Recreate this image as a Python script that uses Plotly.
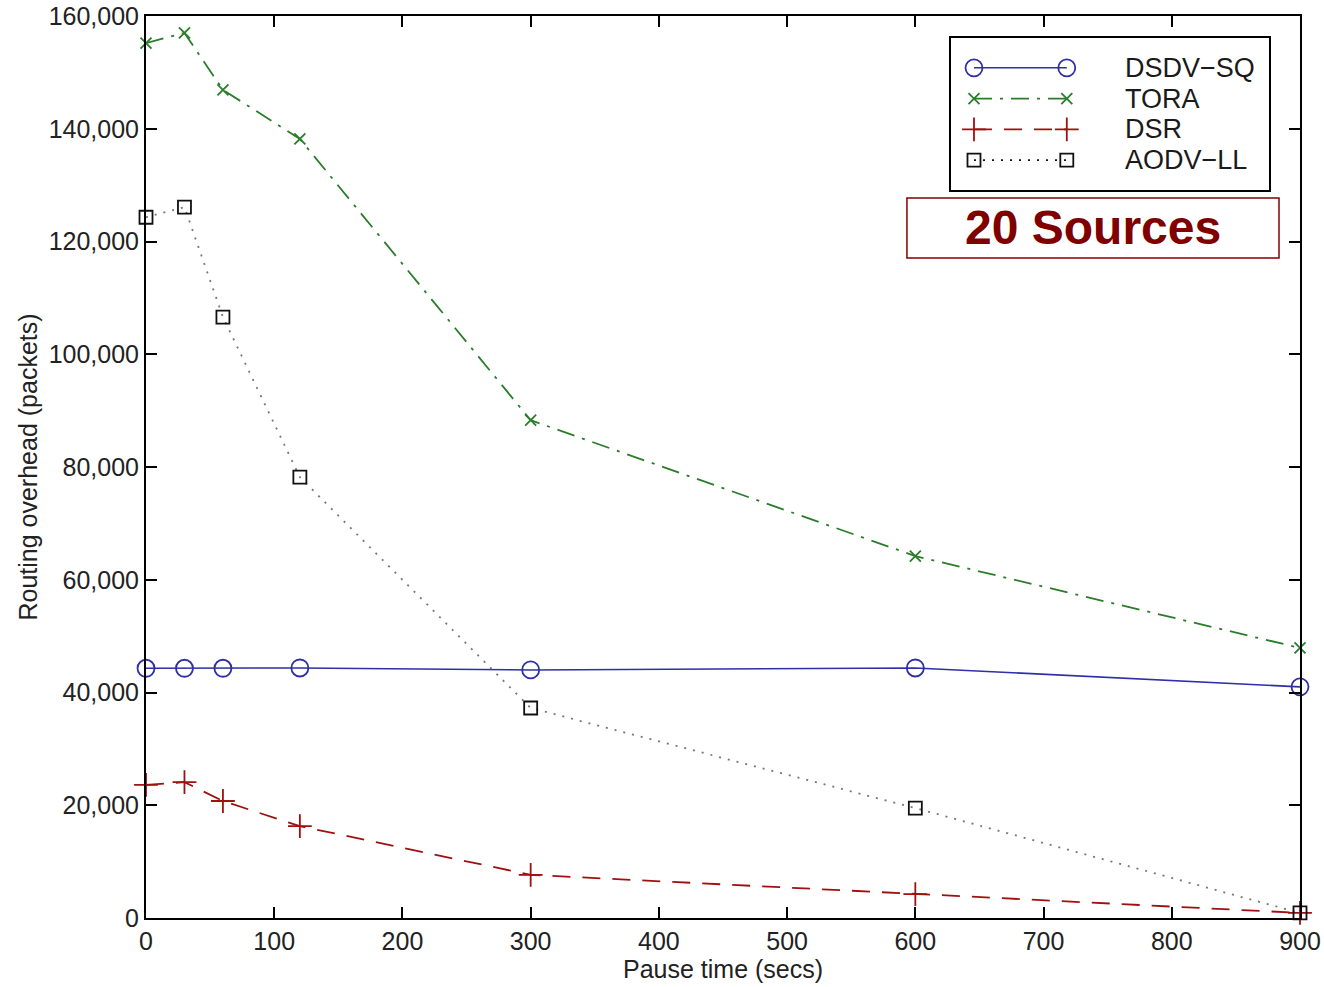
import plotly.graph_objects as go

pause_time = [0, 30, 60, 120, 300, 600, 900]
dsdv_sq = [44300, 44300, 44300, 44350, 44000, 44350, 41000]
tora = [155200, 157000, 146900, 138200, 88300, 64200, 47900]
dsr = [23600, 24100, 20750, 16300, 7650, 4250, 900]
aodv_ll = [124300, 126100, 106600, 78200, 37250, 19500, 900]

series_names = ["DSDV\u2212SQ", "TORA", "DSR", "AODV\u2212LL"]

BLUE = "#2f2fa8"
GREEN = "#2a7d2a"
RED = "#a01010"
BLACK = "#111111"
GRAY = "#777777"
FONT = "Liberation Sans, Arial"

styles = [
    dict(color=BLUE, dash="solid", symbol="circle-open", msize=17, mcolor=BLUE, lw=1.6),
    dict(color=GREEN, dash="18px,8px,3px,8px", symbol="x-thin-open", msize=11, mcolor=GREEN, lw=1.8),
    dict(color=RED, dash="18px,12px", symbol="cross-thin-open", msize=17, mcolor=RED, lw=1.8),
    dict(color=GRAY, dash="2px,7px", symbol="square-open", msize=13, mcolor=BLACK, lw=1.8),
]
data = [dsdv_sq, tora, dsr, aodv_ll]

fig = go.Figure()
for name, ys, st in zip(series_names, data, styles):
    fig.add_trace(go.Scatter(
        x=pause_time, y=ys, name=name, mode="lines+markers",
        line=dict(color=st["color"], dash=st["dash"], width=st["lw"]),
        marker=dict(symbol=st["symbol"], size=st["msize"],
                    line=dict(color=st["mcolor"], width=1.8), color=st["mcolor"]),
        showlegend=False, cliponaxis=False,
    ))

# custom legend drawn on an overlay axis
leg_y = [0.80, 0.60, 0.40, 0.20]
for name, st, yy in zip(series_names, styles, leg_y):
    fig.add_trace(go.Scatter(
        x=[0.075, 0.365], y=[yy, yy], mode="lines+markers", xaxis="x2", yaxis="y2",
        line=dict(color=st["color"] if st["color"] != GRAY else BLACK, dash=st["dash"], width=st["lw"]),
        marker=dict(symbol=st["symbol"], size=st["msize"],
                    line=dict(color=st["mcolor"], width=1.8), color=st["mcolor"]),
        showlegend=False, hoverinfo="skip", cliponaxis=False,
    ))
    fig.add_annotation(x=0.54, y=yy, xref="x2", yref="y2", text=name, showarrow=False,
                       xanchor="left", yanchor="middle",
                       font=dict(family=FONT, size=27, color="#1a1a1a"))

axis_common = dict(
    showline=True, linewidth=2, linecolor="black", mirror="ticks",
    ticks="inside", ticklen=11, tickwidth=2, tickcolor="black",
    showgrid=False, zeroline=False, automargin=False,
    tickfont=dict(family=FONT, size=25, color="#222222"),
)

fig.update_layout(
    width=1324, height=987,
    margin=dict(l=146, r=24, t=16, b=69),
    paper_bgcolor="white", plot_bgcolor="white",
    xaxis=dict(range=[0, 900], dtick=100, tick0=0,
               title=dict(text="Pause time (secs)", standoff=4,
                          font=dict(family=FONT, size=25, color="#222222")),
               **axis_common),
    yaxis=dict(range=[0, 160000], dtick=20000, tick0=0, tickformat=",",
               title=dict(text="Routing overhead (packets)", standoff=4,
                          font=dict(family=FONT, size=25, color="#222222")),
               **axis_common),
    xaxis2=dict(domain=[0.6967, 0.974], range=[0, 1], visible=False, anchor="y2"),
    yaxis2=dict(domain=[0.806, 0.9767], range=[0, 1], visible=False, anchor="x2"),
    shapes=[
        dict(type="rect", xref="paper", yref="paper", x0=0.6967, x1=0.974, y0=0.806, y1=0.9767,
             line=dict(color="black", width=2), fillcolor="rgba(0,0,0,0)", layer="above"),
        dict(type="rect", xref="paper", yref="paper", x0=0.6594, x1=0.9818, y0=0.7317, y1=0.7982,
             line=dict(color="#800000", width=1.5), fillcolor="white", layer="above"),
    ],
)
fig.add_annotation(x=0.8206, y=0.765, xref="paper", yref="paper", text="<b>20 Sources</b>",
                   showarrow=False, xanchor="center", yanchor="middle",
                   font=dict(family=FONT, size=48, color="#800000"))

fig.write_html("out.html")
